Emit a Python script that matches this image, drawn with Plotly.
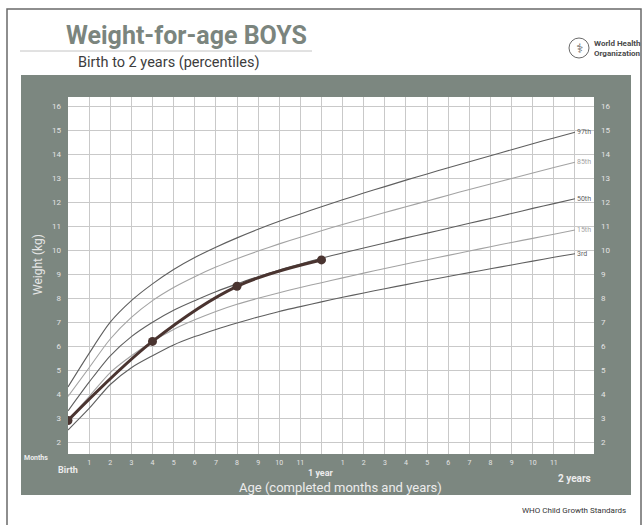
import plotly.graph_objects as go

# ---------------- data ----------------
months = list(range(0, 25))
p3  = [2.5, 3.4, 4.4, 5.1, 5.6, 6.05, 6.4, 6.7, 6.97, 7.22, 7.45, 7.65, 7.85, 8.04, 8.22, 8.4, 8.57, 8.74, 8.91, 9.07, 9.23, 9.39, 9.55, 9.71, 9.86]
p15 = [2.9, 3.9, 4.9, 5.6, 6.2, 6.7, 7.1, 7.45, 7.75, 8.0, 8.23, 8.45, 8.65, 8.85, 9.05, 9.24, 9.43, 9.61, 9.79, 9.97, 10.15, 10.33, 10.5, 10.67, 10.85]
p50 = [3.3, 4.5, 5.6, 6.4, 7.0, 7.5, 7.9, 8.27, 8.6, 8.9, 9.18, 9.43, 9.67, 9.89, 10.1, 10.31, 10.52, 10.72, 10.92, 11.13, 11.33, 11.54, 11.75, 11.95, 12.15]
p85 = [3.9, 5.1, 6.3, 7.2, 7.9, 8.45, 8.9, 9.3, 9.65, 9.97, 10.27, 10.55, 10.82, 11.08, 11.33, 11.58, 11.82, 12.06, 12.3, 12.54, 12.77, 13.0, 13.23, 13.46, 13.68]
p97 = [4.3, 5.7, 7.0, 7.9, 8.6, 9.2, 9.7, 10.13, 10.52, 10.88, 11.21, 11.52, 11.82, 12.11, 12.39, 12.66, 12.93, 13.19, 13.45, 13.7, 13.95, 14.2, 14.45, 14.69, 14.93]
percentile_names = ["97th", "85th", "50th", "15th", "3rd"]

child_age = [0, 4, 8, 12]
child_weight = [2.9, 6.2, 8.5, 9.6]

month_ticks = [1, 2, 3, 4, 5, 6, 7, 8, 9, 10, 11, 13, 14, 15, 16, 17, 18, 19, 20, 21, 22, 23]
month_text = ["1", "2", "3", "4", "5", "6", "7", "8", "9", "10", "11",
              "1", "2", "3", "4", "5", "6", "7", "8", "9", "10", "11"]
kg_ticks = list(range(2, 17))

# ---------------- layout geometry ----------------
W, H = 643, 525
L, R, T, B = 68, 594, 97, 454
PW, PH = R - L, B - T


def px(x):
    return (x - L) / PW


def py(y):
    return (B - y) / PH


PANEL = "#7c8780"
DARK = "#5f5f5f"
LIGHT = "#a3a3a3"
FONT = "Roboto, Open Sans, sans-serif"

fig = go.Figure()

series = [p97, p85, p50, p15, p3]
colors = [DARK, LIGHT, DARK, LIGHT, DARK]
for name, vals, c in zip(percentile_names, series, colors):
    fig.add_trace(go.Scatter(x=months, y=vals, mode="lines", name=name,
                             line=dict(color=c, width=1.1, shape="spline", smoothing=0.8),
                             hoverinfo="skip", showlegend=False))

fig.add_trace(go.Scatter(x=child_age, y=child_weight, mode="lines+markers",
                         line=dict(color="#4a3430", width=3, shape="spline"),
                         marker=dict(color="#4a3430", size=9),
                         showlegend=False, hoverinfo="skip"))

# dummy trace so the right axis renders
fig.add_trace(go.Scatter(x=[None], y=[None], yaxis="y2", showlegend=False, hoverinfo="skip"))

annotations = []
for name, vals, c in zip(percentile_names, series, colors):
    annotations.append(dict(x=months[-1], y=vals[-1], xref="x", yref="y", text=name,
                            showarrow=False, xanchor="left", xshift=0,
                            font=dict(size=7, color=c, family=FONT)))

annotations += [
    dict(x=px(64), y=py(36), xref="paper", yref="paper", text="<b>Weight-for-age BOYS</b>",
         showarrow=False, xanchor="left", yanchor="middle",
         font=dict(size=25, color="#7b857e", family=FONT)),
    dict(x=px(76), y=py(63), xref="paper", yref="paper", text="Birth to 2 years (percentiles)",
         showarrow=False, xanchor="left", yanchor="middle",
         font=dict(size=14.5, color="#3c3c3c", family=FONT)),
    dict(x=px(592), y=py(48), xref="paper", yref="paper", text="<b>World Health<br>Organization</b>",
         showarrow=False, xanchor="left", yanchor="middle", align="left",
         font=dict(size=8, color="#4a4a4a", family=FONT)),
    dict(x=px(579), y=py(48), xref="paper", yref="paper", text="⚕",
         showarrow=False, xanchor="center", yanchor="middle",
         font=dict(size=13, color="#5a5a5a", family="DejaVu Sans")),
    dict(x=px(38), y=py(265), xref="paper", yref="paper", text="Weight (kg)", textangle=-90,
         showarrow=False, xanchor="center", yanchor="middle",
         font=dict(size=12, color="#e6e6e6", family=FONT)),
    dict(x=px(36), y=py(458), xref="paper", yref="paper", text="<b>Months</b>",
         showarrow=False, xanchor="center", yanchor="middle",
         font=dict(size=7, color="#ececec", family=FONT)),
    dict(x=0, y=py(470), xref="x", yref="paper", text="<b>Birth</b>",
         showarrow=False, xanchor="center", yanchor="middle",
         font=dict(size=9, color="#ececec", family=FONT)),
    dict(x=12, y=py(473), xref="x", yref="paper", text="<b>1 year</b>",
         showarrow=False, xanchor="center", yanchor="middle",
         font=dict(size=9, color="#ececec", family=FONT)),
    dict(x=24, y=py(478), xref="x", yref="paper", text="<b>2 years</b>",
         showarrow=False, xanchor="center", yanchor="middle",
         font=dict(size=10, color="#ececec", family=FONT)),
    dict(x=px(340), y=py(487), xref="paper", yref="paper", text="Age (completed months and years)",
         showarrow=False, xanchor="center", yanchor="middle",
         font=dict(size=13, color="#ececec", family=FONT)),
    dict(x=px(628), y=py(511), xref="paper", yref="paper", text="WHO Child Growth Standards",
         showarrow=False, xanchor="right", yanchor="middle",
         font=dict(size=8, color="#333333", family=FONT)),
]

shapes = [
    dict(type="rect", xref="paper", yref="paper", x0=px(7), x1=px(641), y0=py(9), y1=py(540),
         line=dict(color="#6a6a6a", width=1.5), fillcolor="rgba(0,0,0,0)", layer="below"),
    dict(type="rect", xref="paper", yref="paper", x0=px(21), x1=px(631), y0=py(75), y1=py(495),
         line=dict(width=0), fillcolor=PANEL, layer="below"),
    dict(type="rect", xref="paper", yref="paper", x0=0, x1=1, y0=0, y1=1,
         line=dict(width=0), fillcolor="white", layer="below"),
    dict(type="line", xref="paper", yref="paper", x0=px(20), x1=px(312), y0=py(51), y1=py(51),
         line=dict(color="#c4c4c4", width=1)),
    dict(type="circle", xref="paper", yref="paper", x0=px(569), x1=px(589), y0=py(38), y1=py(58),
         line=dict(color="#6a6a6a", width=1)),
]

xrange = [0, 24.9]
yrange = [1.5, 16.4]

fig.update_layout(
    width=W, height=H,
    margin=dict(l=L, r=W - R, t=T, b=H - B, pad=0),
    paper_bgcolor="white", plot_bgcolor="white",
    annotations=annotations, shapes=shapes,
    xaxis=dict(range=xrange, tickvals=month_ticks, ticktext=month_text,
               showgrid=False, zeroline=False, showline=False, ticks="",
               ticklabelstandoff=3,
               tickfont=dict(size=7, color="#e4e4e4", family=FONT),
               minor=dict(dtick=1, tick0=0, showgrid=True, gridcolor="#c9c9c9", gridwidth=1)),
    yaxis=dict(range=yrange, tickvals=kg_ticks, showgrid=True, gridcolor="#c9c9c9", gridwidth=1,
               zeroline=False, showline=False, ticks="", ticklabelstandoff=6,
               tickfont=dict(size=8, color="#e4e4e4", family=FONT)),
    yaxis2=dict(range=yrange, tickvals=kg_ticks, overlaying="y", side="right",
                showgrid=False, zeroline=False, showline=False, ticks="", ticklabelstandoff=6,
                tickfont=dict(size=8, color="#e4e4e4", family=FONT)),
)

fig.write_html("out.html", config={"displayModeBar": False},
               post_script="document.body.style.margin='0';")
